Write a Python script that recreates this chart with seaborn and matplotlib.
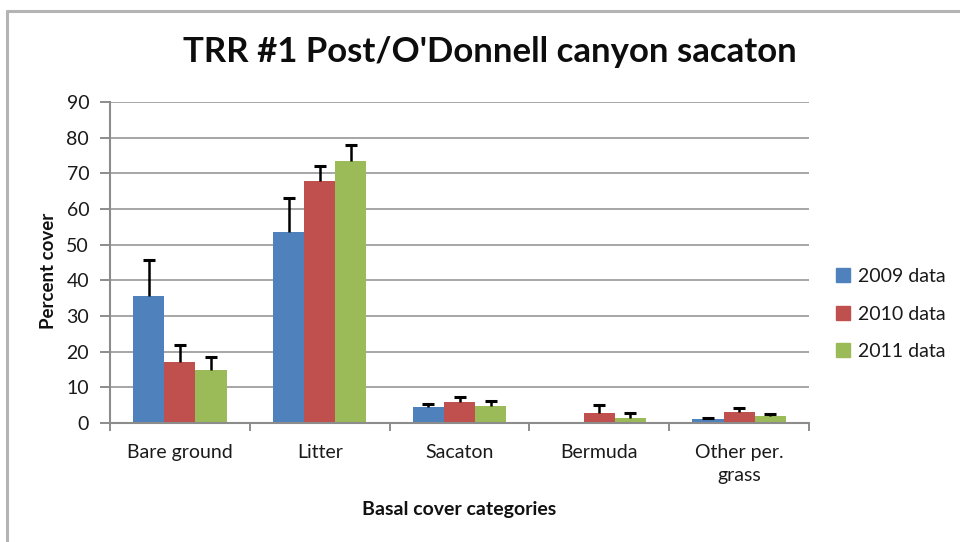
import numpy as np
import pandas as pd
import seaborn as sns
import matplotlib.pyplot as plt
from matplotlib.lines import Line2D
from matplotlib.ticker import FixedLocator, MultipleLocator

# Basal cover by category and survey year
categories = ["Bare ground", "Litter", "Sacaton", "Bermuda", "Other per.\ngrass"]
years = ["2009 data", "2010 data", "2011 data"]
cover_2009 = [35.7, 53.6, 4.6, 0.0, 1.0]
cover_2010 = [17.0, 67.8, 6.0, 2.7, 3.2]
cover_2011 = [15.0, 73.5, 4.9, 1.3, 1.9]
err_2009 = [9.9, 9.6, 0.8, 0.0, 0.3]
err_2010 = [4.9, 4.3, 1.4, 2.3, 0.9]
err_2011 = [3.6, 4.4, 1.3, 1.4, 0.6]

colors = ["#4f81bd", "#c0504d", "#9bbb59"]

covers = [cover_2009, cover_2010, cover_2011]
errors = [err_2009, err_2010, err_2011]
df = pd.DataFrame({
    "category": np.tile(categories, len(years)),
    "year": np.repeat(years, len(categories)),
    "cover": np.concatenate(covers),
})

sns.set_theme(style="white")
plt.rcParams["font.family"] = ["Lato", "DejaVu Sans"]

fig = plt.figure(figsize=(9.6, 5.42), dpi=100)
ax = fig.add_axes([110 / 960, 1 - 423 / 542, 699 / 960, 321 / 542])

sns.barplot(data=df, x="category", y="cover", hue="year", order=categories,
            hue_order=years, palette=colors, width=0.667, saturation=1,
            errorbar=None, legend=False, linewidth=0, ax=ax, zorder=2)

# upper-only error bars with caps
for cont, errs in zip(ax.containers, errors):
    xs, tops, es = [], [], []
    for bar, e in zip(cont, errs):
        if e <= 0:
            continue
        xs.append(bar.get_x() + bar.get_width() / 2)
        tops.append(bar.get_height())
        es.append(e)
    xs, tops, es = np.array(xs), np.array(tops), np.array(es)
    ax.vlines(xs, tops, tops + es, color="black", lw=1.8, zorder=3)
    ax.plot(xs, tops + es, ls="none", marker="_", ms=9, mew=2.2,
            color="black", zorder=3)

ax.set_ylim(0, 90)
ax.set_xlim(-0.5, len(categories) - 0.5)
ax.yaxis.set_major_locator(MultipleLocator(10))
ax.grid(axis="y", color="#a6a6a6", lw=1.4, zorder=0)
ax.set_axisbelow(True)

for side in ["top", "right"]:
    ax.spines[side].set_visible(False)
for side in ["left", "bottom"]:
    ax.spines[side].set_color("#8c8c8c")
    ax.spines[side].set_linewidth(1.5)

ax.tick_params(axis="y", which="major", left=True, length=7, width=1.4,
               color="#8c8c8c", labelsize=14, pad=8, labelcolor="#1a1a1a")
ax.tick_params(axis="x", which="major", bottom=False, labelsize=14,
               pad=9, labelcolor="#1a1a1a")
for lbl in ax.get_xticklabels():
    lbl.set_linespacing(1.45)
ax.xaxis.set_minor_locator(FixedLocator(np.arange(-0.5, len(categories), 1.0)))
ax.tick_params(axis="x", which="minor", bottom=True, length=6, width=1.4,
               color="#8c8c8c")

ax.set_xlabel("Basal cover categories", fontsize=14, fontweight="bold",
              color="#111111")
ax.set_ylabel("Percent cover", fontsize=13.5, fontweight="bold",
              color="#111111")
ax.xaxis.set_label_coords((459 - 110) / 699, -(510 - 423) / 321)
ax.yaxis.set_label_coords(-(110 - 49) / 699, (423 - 271) / 321)
ax.xaxis.label.set_va("center")
ax.yaxis.label.set_va("center")

fig.text(490 / 960, 1 - 52 / 542, "TRR #1 Post/O'Donnell canyon sacaton",
         ha="center", va="center", fontsize=25, fontweight="bold",
         color="#0d0d0d")

handles = [Line2D([], [], ls="none", marker="s", ms=10, color=c) for c in colors]
fig.legend(handles, years, loc="center left",
           bbox_to_anchor=(818 / 960, 1 - 314 / 542), frameon=False,
           fontsize=14, handlelength=0.8, handletextpad=0.35,
           labelspacing=1.05, labelcolor="#1a1a1a")

# chart frame
fig.add_artist(Line2D([7 / 960, 7 / 960], [0, 1 - 11 / 542],
                      color="#b4b4b4", lw=2.2))
fig.add_artist(Line2D([7 / 960, 1], [1 - 11 / 542, 1 - 11 / 542],
                      color="#b4b4b4", lw=2.2))

fig.savefig("out.png", dpi=100)
